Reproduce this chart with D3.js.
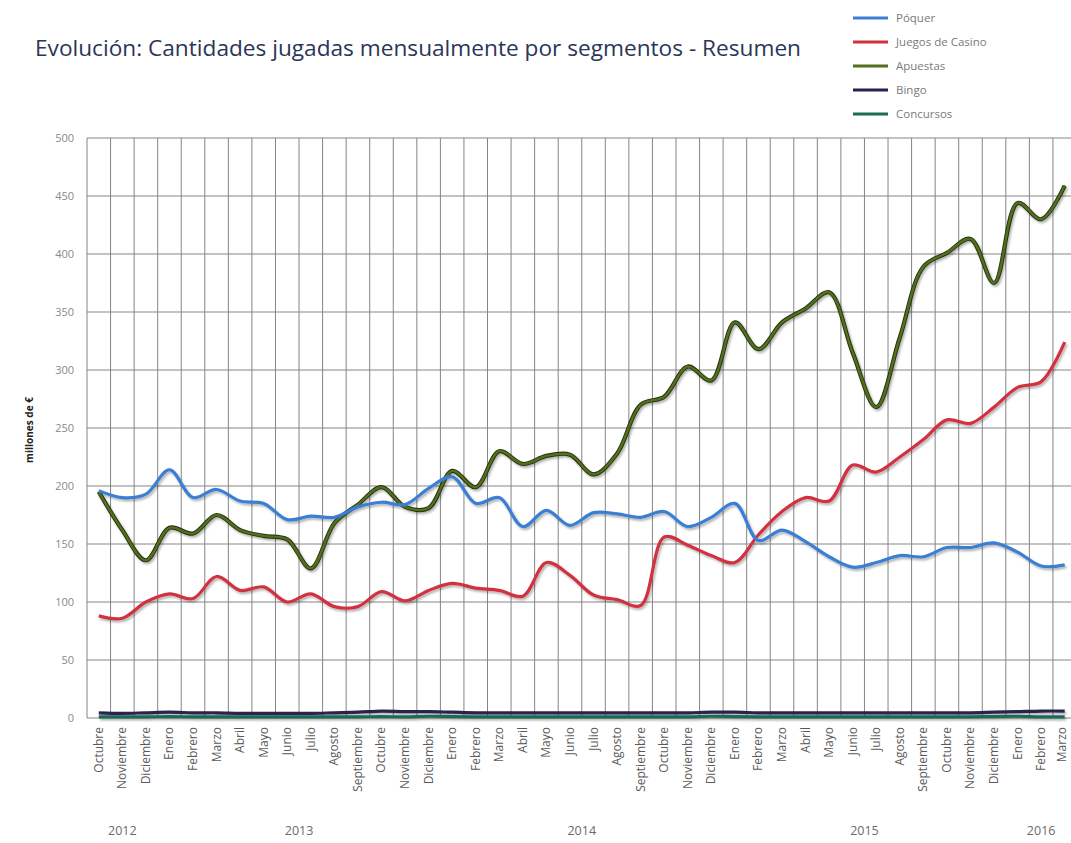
<!DOCTYPE html>
<html>
<head>
<meta charset="utf-8">
<script src="https://cdn.jsdelivr.net/npm/d3@7"></script>
<style>
    body { margin: 0; background: #fff; }
    svg { display: block; font-family: "Open Sans", "Noto Sans", sans-serif; }
    .grid line { stroke: #858585; stroke-width: 1; }
    .tick-y { fill: #8a8a8a; font-size: 11px; }
    .tick-x { fill: #5a5a5a; font-size: 12px; }
    .year { fill: #6a6a6a; font-size: 12.5px; }
    .legend text { fill: #7a7a7a; font-size: 11.5px; }
</style>
</head>
<body>
<svg id="chart" width="1071" height="843"></svg>
<script>
// months, Octubre 2012 .. Marzo 2016
const months = [
    'Octubre', 'Noviembre', 'Diciembre',
    'Enero', 'Febrero', 'Marzo', 'Abril', 'Mayo', 'Junio', 'Julio', 'Agosto', 'Septiembre', 'Octubre', 'Noviembre', 'Diciembre',
    'Enero', 'Febrero', 'Marzo', 'Abril', 'Mayo', 'Junio', 'Julio', 'Agosto', 'Septiembre', 'Octubre', 'Noviembre', 'Diciembre',
    'Enero', 'Febrero', 'Marzo', 'Abril', 'Mayo', 'Junio', 'Julio', 'Agosto', 'Septiembre', 'Octubre', 'Noviembre', 'Diciembre',
    'Enero', 'Febrero', 'Marzo'
];
const years = [
    { label: '2012', first: 0, last: 2 },
    { label: '2013', first: 3, last: 14 },
    { label: '2014', first: 15, last: 26 },
    { label: '2015', first: 27, last: 38 },
    { label: '2016', first: 39, last: 41 }
];
const yTicks = [0, 50, 100, 150, 200, 250, 300, 350, 400, 450, 500];

// millones de euros
const poquer = [
    196, 190, 193, 214, 190, 197, 187, 185, 171, 174, 173, 182,
    186, 184, 198, 208, 185, 190, 165, 179, 166, 177, 176, 173,
    178, 165, 173, 185, 153, 162, 152, 139, 130, 134, 140, 139,
    147, 147, 151, 143, 131, 132
];
const casino = [
    88, 86, 100, 107, 103, 122, 110, 113, 100, 107, 96, 96,
    109, 101, 110, 116, 112, 110, 105, 134, 123, 106, 102, 97,
    156, 149, 140, 134, 158, 178, 190, 187, 218, 212, 225, 240,
    257, 254, 268, 285, 290, 324
];
const apuestas = [
    195, 162, 136, 164, 159, 175, 162, 157, 154, 129, 168, 184,
    199, 182, 181, 213, 199, 230, 219, 226, 227, 210, 228, 270,
    277, 303, 291, 341, 318, 341, 353, 367, 315, 268, 328, 389,
    401, 413, 375, 444, 430, 459
];
const bingo = [
    4.5, 4, 4.5, 5, 4.5, 4.5, 4, 4, 4, 4, 4.5, 5,
    6, 5.5, 5.5, 5, 4.5, 4.5, 4.5, 4.5, 4.5, 4.5, 4.5, 4.5,
    4.5, 4.5, 5, 5, 4.5, 4.5, 4.5, 4.5, 4.5, 4.5, 4.5, 4.5,
    4.5, 4.5, 5, 5.5, 6, 6
];
const concursos = [
    1, 1, 1, 1.2, 1, 1, 1, 1, 1, 1, 1, 1,
    1.2, 1, 1.5, 1.2, 1, 1, 1, 1, 1, 1, 1, 1,
    1, 1, 1.5, 1.2, 1, 1, 1, 1, 1, 1, 1, 1,
    1, 1, 1.2, 1.5, 1, 1
];

const series = [
    { name: 'Póquer', values: poquer, color: '#3b7fd4' },
    { name: 'Juegos de Casino', values: casino, color: '#d2313f' },
    { name: 'Apuestas', values: apuestas, color: '#52701f', outline: '#23300d' },
    { name: 'Bingo', values: bingo, color: '#2b2150' },
    { name: 'Concursos', values: concursos, color: '#1d6a57' }
];

const svg = d3.select('#chart');
const plotLeft = 87, plotRight = 1076.5, plotTop = 138, plotBottom = 718;

const x = d3.scaleBand()
    .domain(d3.range(months.length))
    .range([plotLeft, plotRight]);
const y = d3.scaleLinear()
    .domain([0, 500])
    .range([plotBottom, plotTop]);
const xc = i => x(i) + x.bandwidth() / 2;

// shadow for the lines
const defs = svg.append('defs');
const shadow = defs.append('filter').attr('id', 'shadow')
    .attr('x', '-5%').attr('y', '-20%').attr('width', '110%').attr('height', '140%');
shadow.append('feDropShadow')
    .attr('dx', 1.5).attr('dy', 2).attr('stdDeviation', 1.2)
    .attr('flood-color', '#000').attr('flood-opacity', 0.3);

// title
svg.append('text')
    .attr('x', 35)
    .attr('y', 56)
    .attr('textLength', 766)
    .attr('lengthAdjust', 'spacingAndGlyphs')
    .style('font-size', '22px')
    .style('fill', '#2a3658')
    .text('Evolución: Cantidades jugadas mensualmente por segmentos - Resumen');

// grid
const grid = svg.append('g').attr('class', 'grid');
grid.selectAll('.h')
    .data(yTicks)
    .join('line')
    .attr('class', 'h')
    .attr('x1', plotLeft).attr('x2', plotRight)
    .attr('y1', d => y(d)).attr('y2', d => y(d));
grid.selectAll('.v')
    .data(d3.range(months.length + 1))
    .join('line')
    .attr('class', 'v')
    .attr('x1', i => plotLeft + i * x.bandwidth())
    .attr('x2', i => plotLeft + i * x.bandwidth())
    .attr('y1', plotTop).attr('y2', plotBottom);

// y axis labels
svg.append('g')
    .selectAll('text')
    .data(yTicks)
    .join('text')
    .attr('class', 'tick-y')
    .attr('x', 74)
    .attr('y', d => y(d) + 4)
    .attr('text-anchor', 'end')
    .text(d => d);

svg.append('text')
    .attr('transform', 'translate(33,430) rotate(-90)')
    .attr('text-anchor', 'middle')
    .style('font-size', '10px')
    .style('font-weight', 'bold')
    .style('fill', '#222')
    .text('millones de €');

// x axis labels
svg.append('g')
    .selectAll('text')
    .data(months)
    .join('text')
    .attr('class', 'tick-x')
    .attr('transform', (d, i) => `translate(${Math.min(xc(i) + 4, 1066)},727) rotate(-90)`)
    .attr('text-anchor', 'end')
    .text(d => d);

svg.append('g')
    .selectAll('text')
    .data(years)
    .join('text')
    .attr('class', 'year')
    .attr('x', d => (xc(d.first) + xc(d.last)) / 2)
    .attr('y', 835)
    .attr('text-anchor', 'middle')
    .text(d => d.label);

// lines
const line = d3.line()
    .x((d, i) => xc(i))
    .y(d => y(d))
    .curve(d3.curveCatmullRom.alpha(0.5));

const lines = svg.append('g').attr('filter', 'url(#shadow)');
[...series].reverse().forEach(s => {
    if (s.outline) {
        lines.append('path')
            .attr('d', line(s.values))
            .attr('fill', 'none')
            .attr('stroke', s.outline)
            .attr('stroke-width', 4.2);
    }
    lines.append('path')
        .attr('d', line(s.values))
        .attr('fill', 'none')
        .attr('stroke', s.color)
        .attr('stroke-width', s.outline ? 2.4 : 3.2)
        .attr('stroke-linejoin', 'round');
});

// legend
const legend = svg.append('g').attr('class', 'legend');
const item = legend.selectAll('g')
    .data(series)
    .join('g')
    .attr('transform', (d, i) => `translate(853,${18 + i * 24})`);
item.append('line')
    .attr('x1', 0).attr('x2', 35)
    .attr('stroke', d => d.color)
    .attr('stroke-width', 3);
item.append('text')
    .attr('x', 43)
    .attr('y', 4)
    .text(d => d.name);
</script>
</body>
</html>
